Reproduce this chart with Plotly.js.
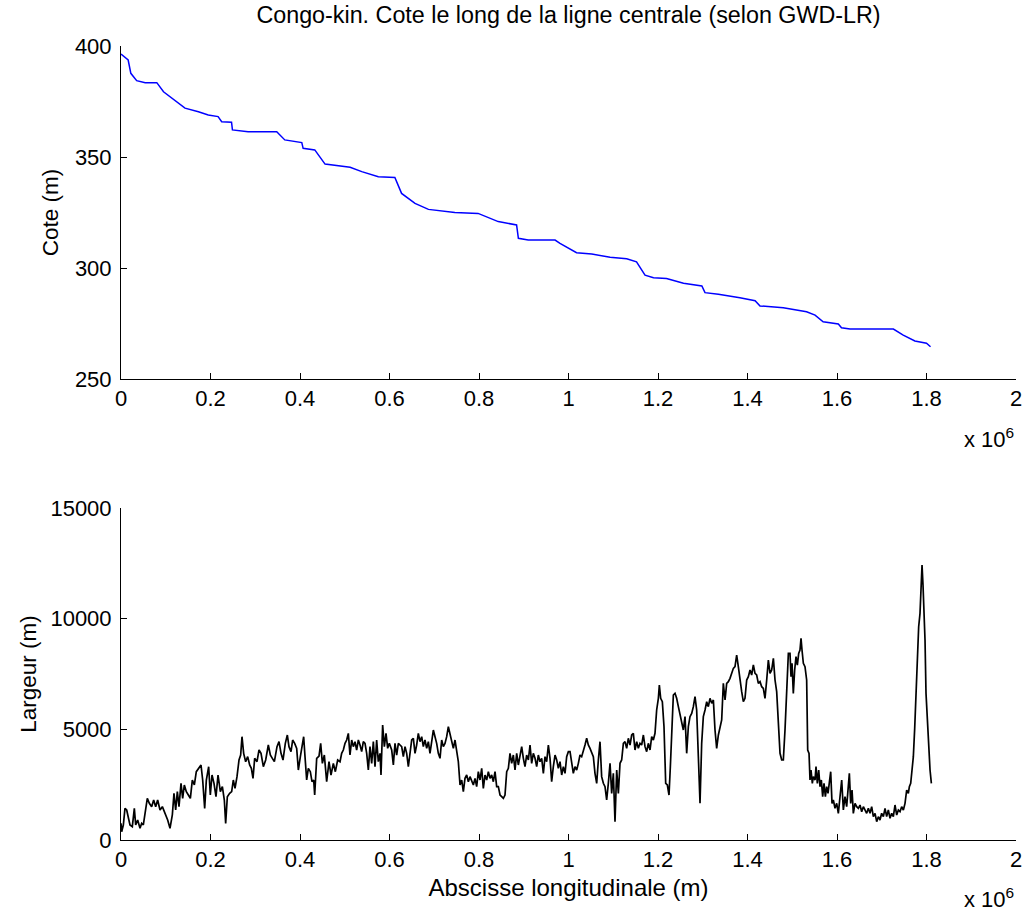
<!DOCTYPE html>
<html>
<head>
<meta charset="utf-8">
<script src="https://cdn.plot.ly/plotly-3.0.1.min.js"></script>
<style>html,body{margin:0;padding:0;background:#fff;}</style>
</head>
<body>
<div id="chart" style="width:1025px;height:913px;"></div>
<script>
// ---- Top panel: bed elevation (Cote) along the centreline ----
const coteAbscisseKm = [0, 16, 22, 35, 54, 80, 95, 117, 136, 143, 173, 195, 217, 225, 247, 249, 284, 348, 366, 404, 407, 433, 456, 486, 512, 538, 575, 612, 627, 657, 687, 746, 798, 843, 884, 888, 910, 970, 981, 1018, 1052, 1093, 1130, 1152, 1171, 1190, 1219, 1257, 1298, 1305, 1335, 1383, 1417, 1428, 1480, 1532, 1551, 1569, 1603, 1610, 1629, 1726, 1748, 1774, 1800, 1809];
const coteM = [396.4, 393.7, 387.7, 384.4, 383.5, 383.5, 379.4, 376.0, 373.4, 372.0, 370.4, 368.9, 368.2, 365.9, 365.7, 362.2, 361.4, 361.4, 357.7, 356.5, 353.9, 353.2, 346.8, 346.0, 345.4, 343.4, 341.1, 340.8, 333.6, 329.1, 326.4, 325.0, 324.6, 320.9, 319.4, 313.4, 312.6, 312.6, 311.1, 306.9, 306.3, 304.8, 304.2, 302.8, 296.8, 295.6, 295.3, 293.1, 291.9, 288.9, 288.2, 286.6, 285.3, 282.9, 282.1, 280.3, 278.8, 275.8, 274.8, 273.1, 272.5, 272.5, 269.8, 267.1, 266.1, 264.5];

// ---- Bottom panel: width (Largeur) along the centreline ----
const largeurAbscisseKm = [
0, 1.5, 5.2, 8.9, 12.7, 16.4, 20.1, 25.3, 29.8, 32.8, 37.2, 42.5, 46.2, 49.9, 53.6, 58.8, 63.3, 68.5, 73.0, 77.5,
81.9, 87.2, 92.4, 98.3, 104.3, 109.5, 114.7, 118.4, 122.2, 125.9, 129.6, 134.1, 137.8, 141.5, 146.0, 150.5, 155.0, 159.4, 163.9, 168.3,
172.8, 178.8, 182.5, 187.0, 190.7, 195.9, 199.6, 203.4, 207.8, 212.3, 216.8, 222.0, 226.5, 230.9, 233.9, 237.6, 242.8, 247.3, 251.0, 254.8,
259.2, 263.7, 267.4, 270.4, 274.1, 278.6, 283.1, 287.5, 291.3, 295.0, 298.7, 303.9, 308.4, 312.9, 318.1, 323.3, 329.2, 333.7, 338.2, 342.7,
348.6, 353.1, 357.6, 362.0, 367.2, 371.7, 375.4, 379.9, 383.6, 388.1, 392.6, 396.3, 400.8, 405.2, 408.2, 411.2, 414.9, 418.6, 423.1, 426.8,
430.6, 432.8, 437.3, 442.5, 446.2, 450.0, 454.4, 459.6, 464.8, 469.3, 474.5, 479.0, 484.2, 489.4,
493.1, 496.8, 500.6, 504.3, 508.0, 511.7, 515.5, 519.2, 522.9, 526.6, 530.4, 534.1, 537.8, 541.5, 545.3, 549.0, 552.7, 556.4, 560.2, 563.9,
567.6, 571.3, 575.0, 578.8, 581.0, 584.7, 588.5, 592.2, 595.9, 599.6, 604.9, 608.6, 612.3, 616.0, 619.8, 623.5, 627.2, 630.9, 634.7, 638.4,
642.1, 645.8, 649.6, 653.3, 657.0, 660.7, 664.4, 668.2, 671.9, 675.6, 679.3, 683.1, 686.8, 690.5, 694.2, 698.0, 701.7, 705.4, 709.1, 712.9,
716.6, 720.3, 724.0, 727.8, 731.5, 735.2, 738.9, 742.7, 746.4, 750.1, 753.8, 757.6, 761.3, 765.0, 768.7, 772.5, 776.2, 779.9, 783.6, 787.4,
791.1, 794.8, 798.5, 802.3, 806.0, 809.7, 813.4, 817.2, 820.9, 824.6, 828.3, 832.1, 835.8, 839.5, 843.2, 847.0, 850.7, 854.4, 858.1, 861.9,
865.6, 869.3, 873.0, 876.7, 880.5, 884.2, 887.9, 891.6, 895.4, 899.1, 902.8, 906.5, 910.3, 914.0, 917.7, 921.4, 925.2, 928.9, 932.6, 936.3,
940.1, 943.8, 947.5, 951.2, 955.0, 958.7, 962.4, 966.1, 969.9, 973.6, 977.3, 981.0, 984.8, 988.5, 992.2, 995.9, 999.7, 1003.4,
1007.1, 1010.8, 1014.5, 1018.3, 1022.0, 1025.7, 1029.4, 1033.2, 1036.9, 1040.6, 1044.3, 1048.1, 1051.8, 1055.5, 1059.2, 1063.0, 1066.7, 1070.4, 1074.1, 1077.9,
1081.6, 1085.3, 1089.0, 1092.8, 1096.5, 1100.2, 1103.9, 1107.7, 1111.4, 1115.1, 1118.8, 1122.6, 1126.3, 1130.0, 1133.7, 1137.5, 1141.2, 1144.9, 1148.6, 1152.4,
1156.1, 1159.8, 1163.5, 1167.3, 1171.0, 1174.7, 1178.4, 1182.2, 1185.9, 1189.6, 1193.3, 1197.0, 1200.8, 1203.0, 1206.0, 1209.7, 1213.4, 1217.2, 1220.9, 1224.6,
1227.6, 1230.6, 1234.3, 1238.0, 1241.7, 1245.5, 1249.2, 1252.9, 1256.6, 1260.4, 1264.1, 1267.8, 1271.5, 1275.3, 1279.0, 1282.7, 1286.4, 1290.2, 1293.9, 1297.6,
1301.3, 1305.1, 1308.8, 1312.5, 1316.2, 1320.0, 1323.7, 1327.4, 1331.1, 1334.9, 1338.6, 1342.3, 1346.0, 1349.8, 1353.5, 1357.2, 1360.9, 1364.7, 1368.4, 1372.1,
1375.8, 1379.5, 1383.3, 1387.0, 1390.7, 1394.4, 1398.2, 1401.9, 1405.6, 1409.3, 1413.1, 1416.8, 1420.5, 1424.2, 1428.0, 1431.7, 1435.4, 1439.1, 1442.9, 1446.6,
1450.3, 1454.0, 1457.8, 1461.5, 1465.2, 1468.9, 1472.7, 1476.4, 1480.1, 1483.8, 1487.6, 1491.3,
1495.0, 1497.2, 1499.5, 1502.4, 1505.4, 1508.4, 1511.4, 1514.4, 1517.3, 1519.6, 1521.8, 1524.8, 1528.5, 1532.2, 1534.5, 1537.5, 1539.7, 1541.9, 1544.9, 1547.1,
1550.9, 1553.1, 1556.1, 1559.1, 1562.0, 1565.0, 1568.0, 1571.0, 1574.0, 1576.9, 1579.9, 1582.9, 1585.9, 1588.9, 1591.8, 1595.6, 1599.3, 1603.0, 1606.7, 1610.5,
1614.2, 1617.9, 1621.6, 1625.4, 1627.6, 1630.6, 1633.6, 1636.5, 1640.3, 1644.0, 1647.7, 1651.4, 1655.2, 1658.9, 1662.6, 1666.3, 1670.1, 1673.8, 1677.5, 1681.2,
1685.0, 1688.7, 1692.4, 1696.1, 1699.8, 1703.6, 1707.3, 1711.0, 1714.7, 1718.5, 1722.2, 1725.9, 1729.6, 1733.4, 1737.1, 1740.8, 1744.5, 1748.3, 1752.0, 1755.7,
1759.4, 1761.7, 1764.7, 1767.6, 1770.6, 1773.6, 1776.6, 1779.6, 1782.5, 1785.5, 1787.8, 1790.0, 1792.2, 1794.5, 1796.7, 1798.9, 1801.9, 1804.9, 1807.9, 1810.9
];
const largeurM = [
753, 376, 678, 1430, 1355, 979, 678, 602, 1430, 678, 904, 527, 753, 678, 1205, 1882, 1656, 1506, 1807, 1506,
1807, 1355, 1506, 1205, 904, 527, 1129, 2108, 1355, 2184, 1506, 2560, 1882, 2485, 2184, 2033, 1882, 2711, 2485, 3087,
3238, 3389, 2711, 1430, 2711, 3313, 2033, 2937, 2560, 1958, 2937, 2184, 2410, 1807, 753, 1958, 2108, 2184, 2711, 2334,
2861, 3614, 3840, 4668, 3915, 3539, 3765, 3389, 3238, 2786, 3690, 3539, 4066, 3915, 3313, 3614, 4292, 3840, 3690, 3539,
4217, 4443, 3915, 3614, 4367, 4744, 4217, 3991, 4518, 4367, 4141, 3163, 3765, 4292, 4668, 3765, 2711, 3238, 3087, 2635,
2711, 2033, 3690, 3795, 4367, 3464, 3840, 2635, 3539, 2937, 3464, 3087, 3614, 3539,
3915, 4066, 4367, 4518, 4819, 3840, 4518, 4217, 4443, 4066, 4518, 4292, 3991, 4443, 4367, 3915, 3163, 4217, 3464, 4443,
3313, 4518, 3539, 3915, 2937, 5196, 4217, 4819, 4141, 4367, 4066, 3389, 4367, 3840, 4367, 4292, 4217, 3765, 4217, 3915,
3313, 3915, 4518, 4593, 3915, 4292, 4819, 4443, 4668, 4217, 4518, 4141, 4443, 3915, 4367, 4970, 4668, 4367, 3915, 3690,
4518, 4217, 4367, 4668, 5120, 4819, 4443, 4141, 4518, 3991, 3539, 2485, 2711, 2184, 2786, 2937, 2635, 2861, 2711, 2485,
2786, 2410, 3087, 2711, 3238, 2334, 2937, 2711, 3087, 2786, 2937, 2635, 3087, 2410, 2410, 2033, 1958, 1882, 2033, 3087,
3238, 3915, 3464, 3840, 3163, 3915, 3389, 3915, 4217, 3690, 3313, 3840, 3614, 4292, 3464, 3915, 3690, 3313, 3840, 3539,
3690, 3012, 3765, 3539, 4292, 3690, 2635, 3313, 3840, 3614, 3238, 3539, 2937, 3313, 3012, 3765, 3991, 3991,
3464, 3012, 3314, 3163, 3464, 3841, 3765, 3991, 4292, 4594, 4292, 4142, 3916, 3765, 3012, 2561, 3615, 4443, 2862, 2561,
2410, 1808, 2561, 3464, 2109, 3012, 829, 3163, 2109, 3464, 3615, 4368, 4443, 4142, 4594, 4292, 4744, 4820, 4067, 4443,
4142, 4368, 4292, 4744, 4217, 3991, 4368, 4067, 4669, 4518, 4820, 5874, 6401, 7003, 6401, 6250, 5121, 2561, 2485, 2034,
3314, 4820, 6552, 6627, 6401, 6024, 5648, 5271, 4970, 5573, 3916, 5121, 5573, 5723, 6024, 6476, 5874, 3765, 1657, 4368,
5573, 5874, 6250, 6024, 6401, 6175, 6326, 4970, 4142, 4744, 5121, 5422, 7079, 6326, 7079, 7154, 7305, 7530, 7756, 7832,
8359, 7832, 7154, 6702, 6250, 6401, 7229, 7380, 7681, 7455, 7907, 7530, 7455, 7079, 7154, 6928, 6853, 6401, 7229, 8133,
7530, 7681, 8208, 7229, 6702, 5046, 3916, 3615, 3615, 4970, 6777, 8434,
8433, 7379, 7982, 6626, 7680, 8283, 7906, 8433, 8584, 9111, 8584, 7982, 7831, 7229, 4066, 3915, 2711, 3162, 2560, 2861,
2711, 3313, 2560, 3162, 2409, 2711, 1958, 2560, 1958, 2409, 2108, 2711, 3087, 1656, 1807, 1431, 1656, 1205, 1958, 2711,
1355, 1958, 1506, 2560, 3012, 1656, 2259, 1205, 1656, 1506, 1431, 1581, 1280, 1506, 1355, 1205, 1431, 1205, 1506, 1054,
1205, 828, 1054, 903, 1205, 1054, 1431, 1054, 1355, 979, 1205, 1054, 1581, 1130, 1355, 1280, 1506, 1355, 1656, 2259,
2108, 2409, 2560, 3162, 3765, 5045, 6551, 8509, 9638, 10241, 11445, 12424, 11521, 10391, 9036, 6626, 5346, 4066, 3162, 2560
];

// ---- Axis ticks (x axis in metres, labelled in units of 10^6 m) ----
const xTickValuesM = [0, 200000, 400000, 600000, 800000, 1000000, 1200000, 1400000, 1600000, 1800000, 2000000];
const xTickLabels = ['0', '0.2', '0.4', '0.6', '0.8', '1', '1.2', '1.4', '1.6', '1.8', '2'];
const coteTicks = [250, 300, 350, 400];
const largeurTicks = [0, 5000, 10000, 15000];

const FONT = 'Liberation Sans, Arial, sans-serif';

const coteX = coteAbscisseKm.map(v => v * 1000);
const largeurX = largeurAbscisseKm.map(v => v * 1000);

const traces = [
  {x: coteX, y: coteM, xaxis: 'x', yaxis: 'y', type: 'scatter', mode: 'lines',
   line: {color: '#0000ff', width: 1.5}, hoverinfo: 'x+y', showlegend: false},
  {x: largeurX, y: largeurM, xaxis: 'x2', yaxis: 'y2', type: 'scatter', mode: 'lines',
   line: {color: '#000000', width: 1.7}, hoverinfo: 'x+y', showlegend: false}
];

const axisCommon = {
  showline: true, linecolor: '#000', linewidth: 1, mirror: false,
  showgrid: false, zeroline: false,
  ticks: 'inside', ticklen: 6, tickwidth: 1, tickcolor: '#000',
  tickfont: {family: FONT, size: 22, color: '#000'}
};

const layout = {
  width: 1025, height: 913,
  margin: {l: 121, r: 9, t: 46, b: 73, pad: 0},
  paper_bgcolor: '#fff', plot_bgcolor: '#fff',
  font: {family: FONT, size: 22, color: '#000'},
  showlegend: false,
  title: {
    text: 'Congo-kin. Cote le long de la ligne centrale (selon GWD-LR)',
    font: {family: FONT, size: 23.3, color: '#000'},
    xref: 'paper', x: 0.5, xanchor: 'center',
    yref: 'container', y: 0.993, yanchor: 'top'
  },
  xaxis: Object.assign({}, axisCommon, {
    domain: [0, 1], anchor: 'y', range: [0, 2000000],
    tickmode: 'array', tickvals: xTickValuesM, ticktext: xTickLabels
  }),
  yaxis: Object.assign({}, axisCommon, {
    domain: [0.5806, 1], anchor: 'x', range: [250, 400],
    tickmode: 'array', tickvals: coteTicks, ticktext: coteTicks.map(String),
    ticklabelstandoff: 4,
    title: {text: 'Cote (m)', font: {family: FONT, size: 22.5, color: '#000'}, standoff: 10}
  }),
  xaxis2: Object.assign({}, axisCommon, {
    domain: [0, 1], anchor: 'y2', range: [0, 2000000],
    tickmode: 'array', tickvals: xTickValuesM, ticktext: xTickLabels,
    title: {text: 'Abscisse longitudinale (m)', font: {family: FONT, size: 24, color: '#000'}, standoff: 7}
  }),
  yaxis2: Object.assign({}, axisCommon, {
    domain: [0, 0.4181], anchor: 'x2', range: [0, 15000],
    tickmode: 'array', tickvals: largeurTicks, ticktext: largeurTicks.map(String),
    ticklabelstandoff: 4,
    title: {text: 'Largeur (m)', font: {family: FONT, size: 22.5, color: '#000'}, standoff: 7}
  }),
  annotations: [
    {text: 'x 10<sup>6</sup>', xref: 'paper', yref: 'paper', x: 1, y: 0.506,
     xanchor: 'right', yanchor: 'middle', showarrow: false,
     font: {family: FONT, size: 22, color: '#000'}},
    {text: 'x 10<sup>6</sup>', xref: 'paper', yref: 'paper', x: 1, y: -0.073,
     xanchor: 'right', yanchor: 'middle', showarrow: false,
     font: {family: FONT, size: 22, color: '#000'}}
  ]
};

Plotly.newPlot('chart', traces, layout, {displayModeBar: false, staticPlot: false});
</script>
</body>
</html>
